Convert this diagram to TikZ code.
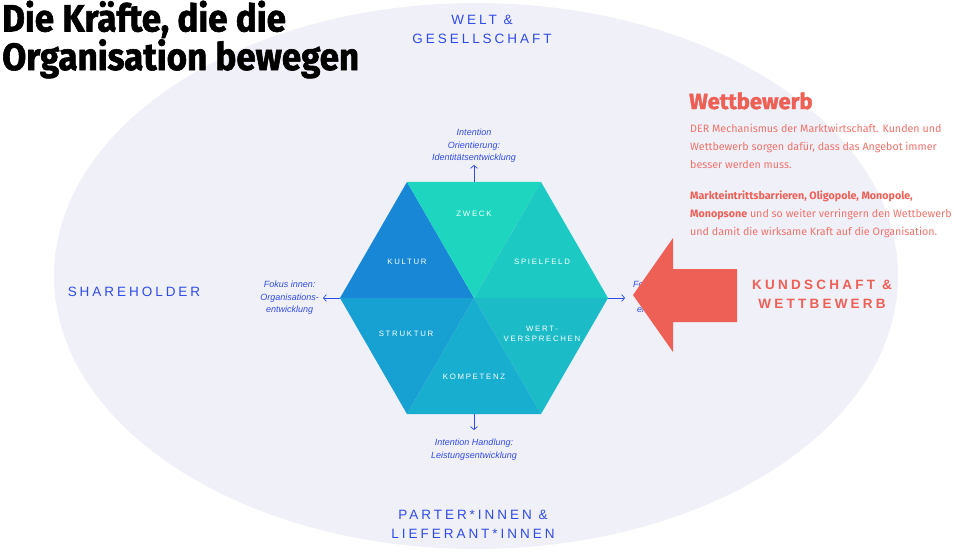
\documentclass[tikz,border=0pt]{standalone}
\usepackage{fontspec}
\setmainfont{Liberation Sans}
\newfontfamily\bodyfont{Fira Sans}
\newfontfamily\headfont{Fira Sans}[BoldFeatures={FakeBold=1.4}]
\newfontfamily\titlefont{Fira Sans}[FakeStretch=0.92,BoldFeatures={FakeBold=1.6}]
\usetikzlibrary{calc,arrows.meta}

\definecolor{ellbg}{HTML}{F0F0F8}
\definecolor{forceblue}{HTML}{2F4BE8}
\definecolor{wred}{HTML}{EE5F56}
\definecolor{wtext}{HTML}{F0736B}
\definecolor{kultur}{HTML}{1787D6}
\definecolor{zweck}{HTML}{1ED6BF}
\definecolor{spielfeld}{HTML}{1DC9C3}
\definecolor{wert}{HTML}{1BBCC8}
\definecolor{kompetenz}{HTML}{17AECF}
\definecolor{struktur}{HTML}{17A0D2}

\tikzset{
  forcelbl/.style={text=forceblue,align=center,
    font=\fontsize{13.5}{19}\selectfont\addfontfeature{LetterSpace=22}},
  hexlbl/.style={text=white,align=center,
    font=\fontsize{7.8}{10}\selectfont\addfontfeature{LetterSpace=22}},
  intlbl/.style={text=forceblue,align=center,inner sep=0pt,
    font=\fontsize{9}{12.5}\selectfont\itshape},
  dirarrow/.style={forceblue,line width=0.7pt,-{Straight Barb[length=3pt,width=7pt]}}
}

\begin{document}
\begin{tikzpicture}[x=1pt,y=-1pt]
  \useasboundingbox (0,0) rectangle (960,557);
  \fill[ellbg] (476,276) ellipse [x radius=422, y radius=273];

  % hexagon
  \coordinate (c) at (474,298);
  \foreach \i in {0,...,5}
  {   \coordinate (v\i) at ($(c)+(\i*60:134)$);
  }
  \foreach \a/\b/\col in {3/4/kultur,4/5/zweck,5/0/spielfeld,0/1/wert,1/2/kompetenz,2/3/struktur}
  {   \fill[\col] (c) -- (v\a) -- (v\b) -- cycle;
  }
  \node[hexlbl] (zweck) at (474,214) {ZWECK};
  \node[hexlbl] (kultur) at (407,262) {KULTUR};
  \node[hexlbl] (spielfeld) at (542,262) {SPIELFELD};
  \node[hexlbl] (struktur) at (406,334) {STRUKTUR};
  \node[hexlbl] (wert) at (542,334) {WERT-\\VERSPRECHEN};
  \node[hexlbl] (kompetenz) at (474,377) {KOMPETENZ};

  % directions
  \coordinate (htop) at ($(v4)!0.5!(v5)$);
  \coordinate (hbot) at ($(v1)!0.5!(v2)$);
  \draw[dirarrow] (htop) -- ++(0,-17) coordinate (atop);
  \draw[dirarrow] (hbot) -- ++(0,16) coordinate (abot);
  \draw[dirarrow] (v3) -- ++(-17,0) coordinate (aleft);
  \draw[dirarrow] (v0) -- ++(17,0) coordinate (aright);
  \node[intlbl,anchor=south] (orient) at ($(atop)+(0,-2)$) {Intention\\Orientierung:\\Identitätsentwicklung};
  \node[intlbl,anchor=north] (handl) at ($(abot)+(0,9)$) {Intention Handlung:\\Leistungsentwicklung};
  \node[intlbl,anchor=east] (innen) at ($(aleft)+(-4,0)$) {Fokus innen:\\Organisations-\\entwicklung};
  \node[intlbl,anchor=west] (aussen) at ($(aright)+(8,0)$) {Fokus außen:\\Markt-\\entwicklung};

  % forces
  \node[forcelbl] (welt) at (482,29) {WELT \&\\GESELLSCHAFT};
  \node[forcelbl] (share) at (134,292) {SHAREHOLDER};
  \node[forcelbl] (partner) at (473,524) {PARTER*INNEN \&\\LIEFERANT*INNEN};

  \fill[wred] (633,295) -- (673,238) -- (673,269) -- (737,269) -- (737,322) -- (673,322) -- (673,352) -- cycle;
  \node[forcelbl,text=wred,font=\fontsize{13.5}{19}\selectfont\bfseries\addfontfeature{LetterSpace=24}] (kunde) at (822,294) {KUNDSCHAFT \&\\WETTBEWERB};

  \node[anchor=base west,inner sep=0pt,text=wred,font=\headfont\bfseries\fontsize{22}{22}\selectfont] (wtitle) at (689,109) {Wettbewerb};
  \node[anchor=north west,inner sep=0pt,align=left,text=wtext,font=\bodyfont\fontsize{10.7}{18}\selectfont] (wtext) at (690,124)
    {DER Mechanismus der Marktwirtschaft. Kunden und\\
     Wettbewerb sorgen dafür, dass das Angebot immer\\
     besser werden muss.\\[13pt]
     \textcolor{wred}{\bfseries Markteintrittsbarrieren, Oligopole, Monopole,}\\
     \textcolor{wred}{\bfseries Monopsone} und so weiter verringern den Wettbewerb\\
     und damit die wirksame Kraft auf die Organisation.};

  \node[anchor=base west,inner sep=0pt,align=left,font=\titlefont\bfseries\fontsize{38}{33}\selectfont] (title) at (2,70)
    {Die Kräfte, die die\\Organisation bewegen};
\end{tikzpicture}
\end{document}
